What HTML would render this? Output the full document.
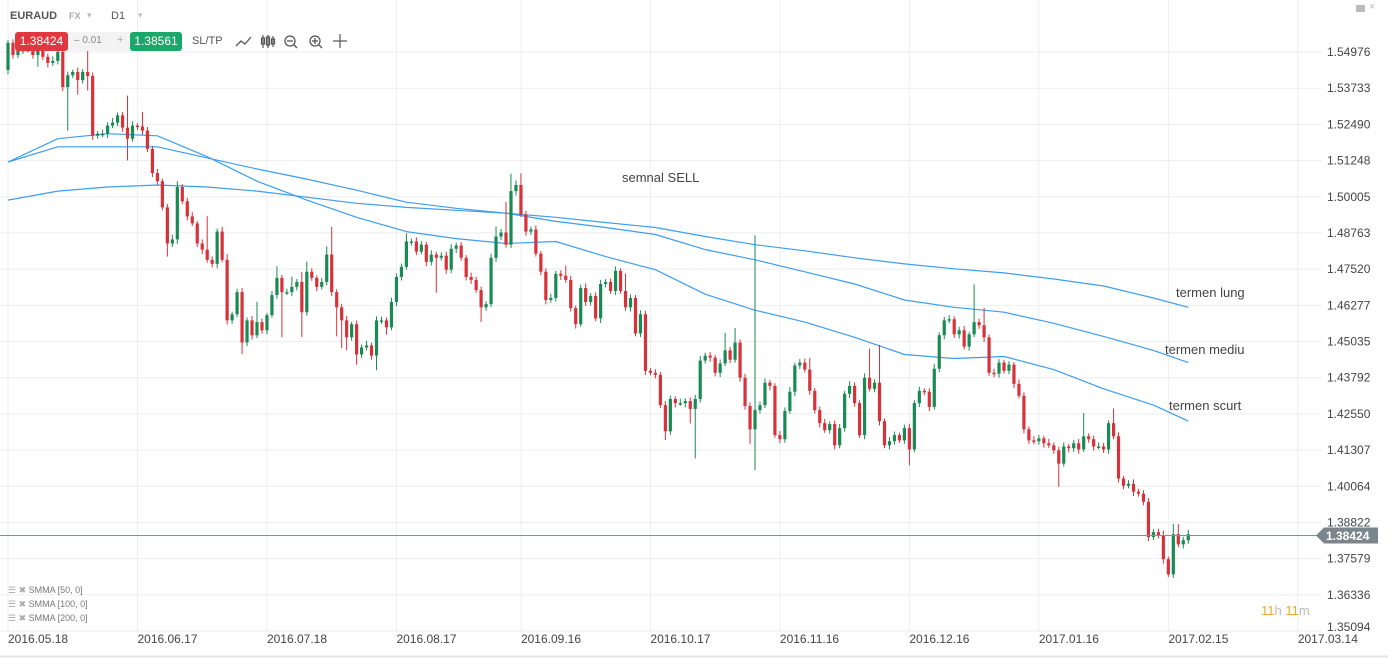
<!DOCTYPE html>
<html><head><meta charset="utf-8">
<style>
body{margin:0;background:#fff;font-family:"Liberation Sans",sans-serif;}
#wrap{position:relative;width:1388px;height:658px;overflow:hidden;background:#fff;}
svg{position:absolute;left:0;top:0;}
.t{position:absolute;white-space:nowrap;}
</style></head><body>
<div id="wrap">
<svg id="chart" width="1388" height="658"></svg>

<div class="t" style="left:10px;top:10px;font-size:11px;font-weight:bold;color:#555">EURAUD</div>
<div class="t" style="left:69px;top:11px;font-size:9px;font-weight:bold;color:#aaa">FX</div>
<div class="t" style="left:87px;top:10px;font-size:9px;color:#bbb">▾</div>
<div class="t" style="left:111px;top:10px;font-size:11px;color:#555">D1</div>
<div class="t" style="left:138px;top:10px;font-size:9px;color:#bbb">▾</div>

<div class="t" style="left:15px;top:32px;width:167px;height:19px;background:#f3f3f3;border-radius:3px"></div>
<div class="t" style="left:15px;top:32px;width:53px;height:19px;background:#e0383e;border-radius:3px;color:#fff;font-size:12px;line-height:19px;text-align:center">1.38424</div>
<div class="t" style="left:74px;top:35px;font-size:10px;color:#888">– 0.01</div>
<div class="t" style="left:117px;top:34px;font-size:11px;color:#aaa">+</div>
<div class="t" style="left:130px;top:32px;width:52px;height:19px;background:#19a86a;border-radius:3px;color:#fff;font-size:12px;line-height:19px;text-align:center">1.38561</div>
<div class="t" style="left:192px;top:35px;font-size:11px;color:#555">SL/TP</div>
<svg width="120" height="20" style="left:234px;top:32px">
<polyline points="2,14 7,9 11,12 17,5" fill="none" stroke="#555" stroke-width="1.3"/>
<g stroke="#555" fill="none" stroke-width="1.2"><line x1="29" y1="3" x2="29" y2="16"/><rect x="27.5" y="6" width="3" height="6"/><line x1="34" y1="3" x2="34" y2="16"/><rect x="32.5" y="5" width="3" height="8"/><line x1="39" y1="4" x2="39" y2="15"/><rect x="37.5" y="7" width="3" height="5"/></g>
<g stroke="#555" fill="none" stroke-width="1.3"><circle cx="56" cy="9" r="5"/><line x1="53" y1="9" x2="59" y2="9"/><line x1="60" y1="13" x2="63" y2="16"/></g>
<g stroke="#555" fill="none" stroke-width="1.3"><circle cx="81" cy="9" r="5"/><line x1="78" y1="9" x2="84" y2="9"/><line x1="81" y1="6" x2="81" y2="12"/><line x1="85" y1="13" x2="88" y2="16"/></g>
<g stroke="#555" fill="none" stroke-width="1.2"><line x1="106" y1="2" x2="106" y2="16"/><line x1="99" y1="9" x2="113" y2="9"/></g>
</svg>
<div class="t" style="left:1356px;top:5px;width:9px;height:7px;background:#bbb"></div>
<div class="t" style="left:1369px;top:1px;font-size:11px;color:#bbb">×</div>

<div class="t" style="left:622px;top:170px;font-size:13px;color:#444">semnal SELL</div>
<div class="t" style="left:1176px;top:285px;font-size:13px;color:#444">termen lung</div>
<div class="t" style="left:1165px;top:342px;font-size:13px;color:#444">termen mediu</div>
<div class="t" style="left:1169px;top:398px;font-size:13px;color:#444">termen scurt</div>

<div class="t" style="left:8px;top:585px;font-size:9px;color:#777"><span style="color:#aaa">☰ ✖</span> SMMA [50, 0]</div>
<div class="t" style="left:8px;top:599px;font-size:9px;color:#777"><span style="color:#aaa">☰ ✖</span> SMMA [100, 0]</div>
<div class="t" style="left:8px;top:613px;font-size:9px;color:#777"><span style="color:#aaa">☰ ✖</span> SMMA [200, 0]</div>
<div class="t" style="left:1261px;top:603px;font-size:13px;color:#f5a623">11<span style="color:#bbb">h</span> 11<span style="color:#bbb">m</span></div>
</div>
<script>
const firstOpen = 1.5436;
const closes = [
1.5529,1.5487,1.5505,1.5505,1.5505,1.5487,1.5505,1.5481,1.5460,1.5467,
1.5498,1.5377,1.5418,1.5429,1.5401,1.5429,1.5415,1.5210,1.5217,1.5217,
1.5245,1.5255,1.5280,1.5238,1.5200,1.5245,1.5242,1.5228,1.5165,1.5082,
1.5054,1.4964,1.4840,1.4854,1.5034,1.4985,1.4933,1.4909,1.4840,1.4819,
1.4784,1.4770,1.4881,1.4784,1.4576,1.4597,1.4673,1.4500,1.4576,1.4525,
1.4570,1.4542,1.4594,1.4663,1.4722,1.4673,1.4673,1.4691,1.4708,1.4604,
1.4743,1.4722,1.4691,1.4708,1.4802,1.4673,1.4621,1.4576,1.4518,1.4563,
1.4459,1.4483,1.4490,1.4455,1.4576,1.4576,1.4552,1.4639,1.4725,1.4760,
1.4847,1.4847,1.4812,1.4836,1.4777,1.4802,1.4791,1.4798,1.4750,1.4822,
1.4833,1.4791,1.4725,1.4715,1.4680,1.4621,1.4632,1.4791,1.4864,1.4878,
1.4836,1.5020,1.5041,1.4940,1.4881,1.4888,1.4805,1.4743,1.4646,1.4653,
1.4736,1.4729,1.4715,1.4618,1.4563,1.4687,1.4639,1.4660,1.4583,1.4701,
1.4708,1.4677,1.4746,1.4677,1.4621,1.4653,1.4531,1.4597,1.4403,1.4396,
1.4389,1.4285,1.4195,1.4306,1.4292,1.4292,1.4299,1.4272,1.4306,1.4438,
1.4455,1.4448,1.4396,1.4428,1.4473,1.4441,1.4500,1.4379,1.4282,1.4202,
1.4268,1.4285,1.4362,1.4351,1.4182,1.4168,1.4265,1.4331,1.4421,1.4431,
1.4407,1.4334,1.4268,1.4223,1.4199,1.4220,1.4147,1.4206,1.4324,1.4351,
1.4292,1.4182,1.4379,1.4341,1.4362,1.4230,1.4147,1.4161,1.4182,1.4164,
1.4206,1.4133,1.4292,1.4334,1.4331,1.4279,1.4410,1.4525,1.4576,1.4580,
1.4528,1.4542,1.4486,1.4528,1.4570,1.4559,1.4518,1.4396,1.4393,1.4431,
1.4403,1.4424,1.4358,1.4317,1.4202,1.4164,1.4161,1.4171,1.4154,1.4147,
1.4130,1.4084,1.4143,1.4137,1.4154,1.4133,1.4178,1.4168,1.4143,1.4143,
1.4133,1.4223,1.4178,1.4033,1.4008,1.4015,1.3988,1.3981,1.3953,1.3832,
1.3849,1.3839,1.3756,1.3704,1.3842,1.3807,1.3821,1.3842];
const wickUpPips = [
10,12,8,15,10,12,9,14,11,16, 10,25,12,8,15,10,75,12,9,14,
11,16,10,12,110,15,8,50,12,10, 14,9,12,16,20,10,12,15,8,14,
115,12,10,16,20,9,12,14,10,15, 70,12,8,14,40,10,12,35,10,35,
35,12,9,14,28,95,10,12,15,8, 12,10,16,9,14,12,10,15,12,11,
28,10,14,12,9,15,10,12,14,16, 10,12,9,15,11,12,10,14,35,12,
105,60,15,40,12,10,14,9,12,15, 10,12,35,14,9,12,16,10,12,14,
10,12,15,9,60,12,10,14,12,9, 12,10,14,12,9,15,10,12,14,16,
10,12,9,14,60,12,50,10,14,12, 600,12,15,10,9,14,12,16,10,12,
14,40,10,12,15,9,12,14,10,16, 12,10,15,100,12,130,10,14,12,9,
12,15,10,14,9,12,16,10,12,14, 10,12,15,9,130,12,60,10,14,12,
10,12,9,15,12,10,14,12,9,15, 10,12,14,9,12,15,80,10,12,14,
12,10,50,14,9,12,15,10,12,14, 10,12,15,9,35,35,12,15];
const wickDnPips = [
15,12,10,14,9,12,40,11,15,10, 12,14,150,10,50,12,50,14,10,12,
15,9,12,14,75,10,12,15,11,14, 12,10,45,12,15,10,14,9,12,15,
10,12,15,9,14,12,10,40,12,15, 10,12,14,9,12,155,10,14,12,85,
12,10,15,9,12,14,100,95,45,12, 35,12,10,14,50,12,25,10,14,12,
10,14,12,9,15,12,120,10,14,12, 15,10,12,14,9,50,12,10,14,12,
10,12,15,9,14,12,10,12,15,9, 12,14,10,12,15,9,14,12,10,16,
12,10,14,9,12,15,10,12,14,9, 12,10,30,12,15,9,14,50,170,12,
10,14,12,15,9,12,10,14,12,50, 140,12,10,15,9,14,12,10,16,12,
10,14,12,15,9,12,14,10,12,15, 12,10,14,9,12,15,10,14,12,9,
12,55,10,14,12,15,9,12,14,10, 12,15,10,14,9,12,16,10,12,14,
10,12,15,9,14,12,10,12,15,9, 12,80,10,14,12,15,9,12,14,10,
12,15,10,14,12,9,15,10,12,14, 10,12,15,9,12,10,14,12];
const maIndex = [0,10,20,30,40,50,60,70,80,90,100,110,120,130,140,150,160,170,180,190,200,210,220,230,237];
const smma200 = [1.4989,1.5020,1.5034,1.5041,1.5034,1.5020,1.4999,1.4978,1.4964,1.4954,1.4944,1.4930,1.4912,1.4895,1.4864,1.4836,1.4815,1.4791,1.4770,1.4753,1.4739,1.4718,1.4694,1.4653,1.4621];
const smma100 = [1.5120,1.5172,1.5172,1.5172,1.5134,1.5096,1.5061,1.5023,1.4982,1.4961,1.4944,1.4916,1.4895,1.4871,1.4819,1.4784,1.4743,1.4701,1.4646,1.4621,1.4604,1.4566,1.4521,1.4473,1.4431];
const smma50 = [1.5120,1.5200,1.5217,1.5210,1.5138,1.5054,1.4989,1.4930,1.4881,1.4857,1.4840,1.4847,1.4795,1.4750,1.4666,1.4611,1.4570,1.4518,1.4459,1.4445,1.4452,1.4407,1.4341,1.4285,1.4230];
const priceTicks = [1.54976,1.53733,1.52490,1.51248,1.50005,1.48763,1.47520,1.46277,1.45035,1.43792,1.42550,1.41307,1.40064,1.38822,1.37579,1.36336,1.35094];
const dateLabels = ["2016.05.18","2016.06.17","2016.07.18","2016.08.17","2016.09.16","2016.10.17","2016.11.16","2016.12.16","2017.01.16","2017.02.15","2017.03.14"];
const dateIndex = [0,26,52,78,103,129,155,181,207,233,259];
const lastPrice = 1.38424;

const NS="http://www.w3.org/2000/svg";
const svg=document.getElementById('chart');
const X0=8, STEP=4.98;
function xs(i){return X0+i*STEP;}
function ys(p){return 52+(1.54976-p)/0.19882*579;}
function mk(tag,attrs,parent){const e=document.createElementNS(NS,tag);for(const k in attrs)e.setAttribute(k,attrs[k]);(parent||svg).appendChild(e);return e;}

const grid=mk('g',{});


priceTicks.forEach((p,k)=>{
  const l=mk('line',{x1:0,x2:1322,y1:ys(p),y2:ys(p),stroke:'#eeeeee','stroke-width':1},grid);
  
  
  const ty=Math.min(ys(p)+4,631);
  const t=mk('text',{x:1327,y:ty,'font-size':12,fill:'#444','font-family':'Liberation Sans, sans-serif'});
  t.textContent=p.toFixed(5);
  
  
});
dateIndex.forEach((di,k)=>{
  const x=xs(di);
  const l=mk('line',{x1:x,x2:x,y1:0,y2:632,stroke:'#eeeeee','stroke-width':1},grid);
  
  
  const t=mk('text',{x:x,y:643,'font-size':12,fill:'#444','font-family':'Liberation Sans, sans-serif'});
  t.textContent=dateLabels[k];
  
  
});
const bl=mk('line',{x1:0,x2:1388,y1:656.5,y2:656.5,stroke:'#dde6ea','stroke-width':2});



function maLine(arr,name){
  const d=arr.map((v,k)=>(k?'L':'M')+xs(maIndex[k]).toFixed(1)+','+ys(v).toFixed(1)).join(' ');
  const p=mk('path',{d:d,fill:'none',stroke:'#3d9df2','stroke-width':1.2,'stroke-linejoin':'round'});
  
  
}
maLine(smma200,'smma-200-line');
maLine(smma100,'smma-100-line');
maLine(smma50,'smma-50-line');

const cg=mk('g',{});


let prev=firstOpen;
closes.forEach((c,i)=>{
  const o=prev; prev=c;
  const up=c>=o;
  const col=up?'#1a8a55':'#d7313a';
  const hi=Math.max(o,c)+wickUpPips[i]*0.0001;
  const lo=Math.min(o,c)-wickDnPips[i]*0.0001;
  const x=xs(i);
  const g=mk('g',{},cg);
  
  
  mk('line',{x1:x,x2:x,y1:ys(hi),y2:ys(lo),stroke:col,'stroke-width':1},g);
  const top=ys(Math.max(o,c)), h=Math.max(1.5,ys(Math.min(o,c))-top);
  mk('rect',{x:x-1.6,y:top,width:3.2,height:h,fill:col},g);
});

const ly=ys(lastPrice)+1.5;
const pl=mk('line',{x1:0,x2:1318,y1:ly,y2:ly,stroke:'#8a8f93','stroke-width':1});


const tag=mk('path',{d:`M1316,${ly} L1324,${ly-8} L1378,${ly-8} L1378,${ly+8} L1324,${ly+8} Z`,fill:'#7b868c'});


const tt=mk('text',{x:1326,y:ly+4.5,'font-size':12,fill:'#fff','font-weight':'bold','font-family':'Liberation Sans, sans-serif'});
tt.textContent=lastPrice.toFixed(5);


</script>
</body></html>
